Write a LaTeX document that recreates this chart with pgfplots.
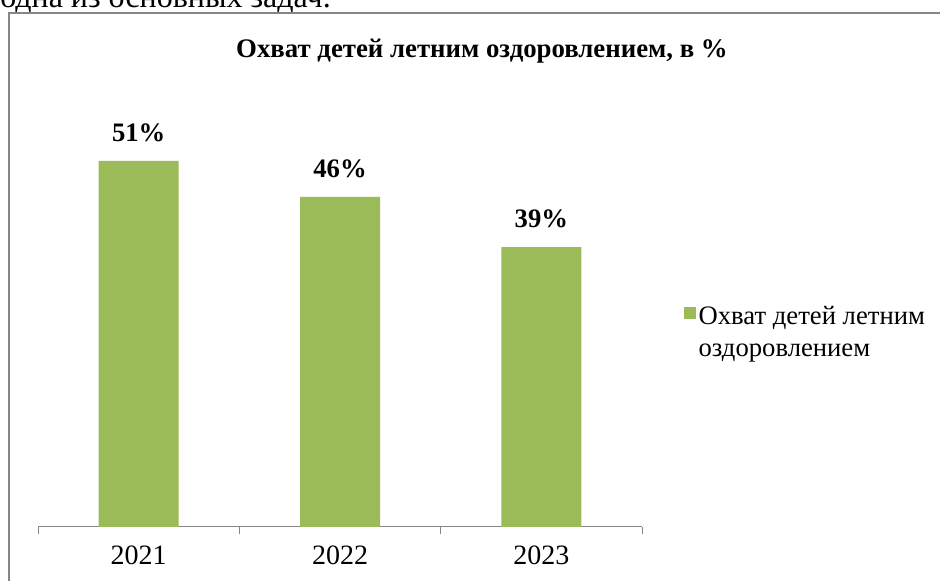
\documentclass[border=0pt]{standalone}
\usepackage{fontspec}
\setmainfont{Liberation Serif}
\usepackage{pgfplots}
\pgfplotsset{compat=1.18}
\definecolor{barGreen}{HTML}{9BBB59}
\definecolor{frameGray}{HTML}{868686}

\begin{document}
\begin{tikzpicture}[x=0.75pt,y=0.75pt]
\useasboundingbox (0,0) rectangle (940,581);
\clip (0,0) rectangle (940,581);
% text of the page above the chart, cut off
\node[anchor=base west, inner sep=0pt, font=\fontsize{24}{28}\selectfont] at (0,573) {одна из основных задач.};
% chart frame
\draw[frameGray, line width=1.5pt] (9,-20) -- (9,568) -- (960,568);
% title
\node[font=\fontsize{20.1}{24}\selectfont\bfseries] at (482,530) {Охват детей летним оздоровлением, в \%};
% axis placed in pt: 1px = 0.75pt
\begin{axis}[
    at={(28.5pt,40.5pt)}, anchor=south west,
    scale only axis, width=453pt, height=323pt,
    xmin=-0.5, xmax=2.5, ymin=0, ymax=60,
    axis x line=bottom, axis y line=none,
    x axis line style={-, draw=frameGray, line width=0.75pt},
    xtick={0,1,2}, xticklabels={2021,2022,2023},
    major x tick style={draw=none},
    minor xtick={-0.5,0.5,1.5,2.5},
    minor x tick style={draw=frameGray, line width=0.75pt},
    minor tick length=5.5pt, tick align=outside,
    xticklabel style={font=\fontsize{21}{25}\selectfont, yshift=-6pt},
    ybar, bar width=60pt, bar shift=0pt,
    nodes near coords={\pgfmathprintnumber[assume math mode=true]{\pgfplotspointmeta}\%},
    every node near coord/.append style={font=\fontsize{20}{24}\selectfont\bfseries, yshift=10.5pt},
    legend style={draw=none, at={(1.069,0.53)}, anchor=north west, inner sep=0pt,
      font=\fontsize{20}{24}\selectfont, cells={anchor=west}},
    legend image code/.code={\fill[barGreen] (-7pt,-3.5pt) rectangle (2pt,5.5pt);},
    clip=false,
]
\addplot[fill=barGreen, draw=none] coordinates {(0,51) (1,46) (2,39)};
\addlegendentry{\begin{tabular}[t]{@{}l@{}}Охват детей летним\\[0pt]оздоровлением\end{tabular}}
\end{axis}
\end{tikzpicture}
\end{document}
